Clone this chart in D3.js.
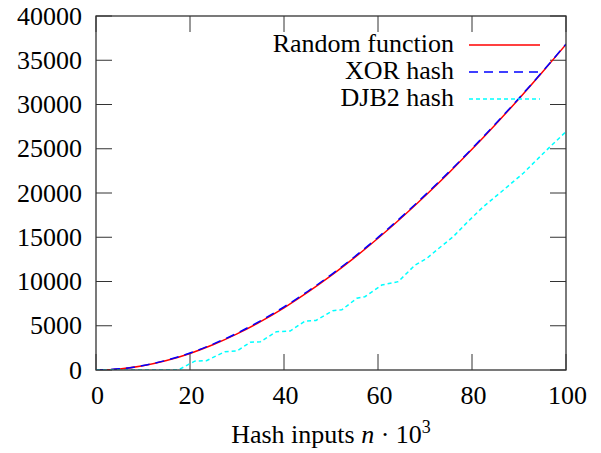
<!DOCTYPE html>
<html>
<head>
<meta charset="utf-8">
<script src="https://cdn.jsdelivr.net/npm/d3@7.9.0/dist/d3.min.js"></script>
</head>
<body style="margin:0">
<svg id="chart" width="601" height="453"></svg>
<script>
// inputs n (thousands)
const nValues = [0, 5, 10, 15, 20, 25, 30, 35, 40, 45, 50, 55, 60, 65, 70, 75, 80, 85, 90, 95, 100];
// collisions
const randomFn = [0, 123, 484, 1071, 1873, 2880, 4082, 5469, 7032, 8763, 10653, 12695, 14881, 17205, 19659, 22237, 24933, 27741, 30657, 33674, 36788];
const xorHash = [0, 130, 500, 1100, 1920, 2950, 4160, 5560, 7130, 8870, 10760, 12800, 14990, 17300, 19760, 22330, 25020, 27820, 30720, 33720, 36830];
const djbN = [0, 17.5, 21, 23.5, 27.4, 30, 32.8, 35, 38.4, 41.3, 44.5, 46.8, 50.4, 52.3, 55.5, 57.2, 60.8, 64.3, 67.9, 70.4, 72.5, 76, 79, 82.4, 86.7, 90.9, 95.9, 100];
const djbHash = [0, 0, 1000, 1050, 2070, 2150, 3130, 3200, 4330, 4400, 5540, 5600, 6700, 6800, 8100, 8280, 9600, 9980, 11860, 12620, 13560, 15060, 16700, 18450, 20340, 22230, 24860, 26930];

const xTicks = [0, 20, 40, 60, 80, 100];
const yTicks = [0, 5000, 10000, 15000, 20000, 25000, 30000, 35000, 40000];

const series = [
  { name: 'Random function', xs: nValues, ys: randomFn, color: '#ff0000', dash: null },
  { name: 'XOR hash', xs: nValues, ys: xorHash, color: '#0000ff', dash: '9,6' },
  { name: 'DJB2 hash', xs: djbN, ys: djbHash, color: '#00ffff', dash: '4,3' }
];

const serif = '"Liberation Serif"';
const svg = d3.select('#chart');
const plotL = 96, plotR = 566, plotT = 16, plotB = 370;
const tickLen = 16;

const x = d3.scaleLinear().domain([0, 100]).range([plotL, plotR]);
const y = d3.scaleLinear().domain([0, 40000]).range([plotB, plotT]);

// helper so every label gets the same font setup
function label(sel) {
  return sel
    .style('font-family', serif)
    .attr('font-size', 26)
    .attr('fill', '#000');
}

/*ticks, inward and mirrored, drawn as plain lines*/
const tickColor = '#333';
const ticks = svg.append('g').attr('stroke', tickColor).attr('stroke-width', 1);
ticks.selectAll('.xb').data(xTicks).join('line').attr('class', 'xb')
  .attr('x1', d => x(d)).attr('x2', d => x(d))
  .attr('y1', plotB).attr('y2', plotB - tickLen);
ticks.selectAll('.xt').data(xTicks).join('line').attr('class', 'xt')
  .attr('x1', d => x(d)).attr('x2', d => x(d))
  .attr('y1', plotT).attr('y2', plotT + tickLen);
ticks.selectAll('.yl').data(yTicks).join('line').attr('class', 'yl')
  .attr('x1', plotL).attr('x2', plotL + tickLen)
  .attr('y1', d => y(d)).attr('y2', d => y(d));
ticks.selectAll('.yr').data(yTicks).join('line').attr('class', 'yr')
  .attr('x1', plotR).attr('x2', plotR - tickLen)
  .attr('y1', d => y(d)).attr('y2', d => y(d));

/*tick labels*/
svg.append('g').selectAll('text')
  .data(yTicks)
  .join('text')
  .attr('x', 82)
  .attr('y', d => y(d) + 8.5)
  .attr('text-anchor', 'end')
  .call(label)
  .text(d => d);

svg.append('g').selectAll('text')
  .data(xTicks)
  .join('text')
  .attr('x', d => x(d) + 1.5)
  .attr('y', 404)
  .attr('text-anchor', 'middle')
  .call(label)
  .text(d => d);

/*axis title*/
const title = svg.append('text')
  .attr('x', (plotL + plotR) / 2)
  .attr('y', 443)
  .attr('text-anchor', 'middle')
  .call(label);
title.append('tspan').text('Hash inputs ');
title.append('tspan').style('font-style', 'italic').text('n');
title.append('tspan').text(' · 10');
title.append('tspan').attr('font-size', 18).attr('dy', -10).text('3');

/*curves*/
svg.append('clipPath').attr('id', 'plot-clip')
  .append('rect')
  .attr('x', plotL).attr('y', plotT)
  .attr('width', plotR - plotL).attr('height', plotB - plotT);

series.forEach(s => {
  const pts = s.xs.map((n, i) => [n, s.ys[i]]);
  const line = d3.line()
    .x(d => x(d[0]))
    .y(d => y(d[1]))
    .curve(s.name === 'DJB2 hash' ? d3.curveLinear : d3.curveMonotoneX);
  svg.append('path')
    .datum(pts)
    .attr('clip-path', 'url(#plot-clip)')
    .attr('fill', 'none')
    .attr('stroke', s.color)
    .attr('stroke-width', 1.5)
    .attr('stroke-dasharray', s.dash)
    .attr('d', line);
});

/*legend*/
const legend = svg.append('g');
series.forEach((s, i) => {
  const ly = 45 + i * 27;
  legend.append('text')
    .attr('x', 454)
    .attr('y', ly + 7)
    .attr('text-anchor', 'end')
    .call(label)
    .text(s.name);
  legend.append('line')
    .attr('x1', 469).attr('x2', 540)
    .attr('y1', ly).attr('y2', ly)
    .attr('stroke', s.color)
    .attr('stroke-width', 1.5)
    .attr('stroke-dasharray', s.dash);
});

/*border*/
svg.append('rect')
  .attr('x', plotL).attr('y', plotT)
  .attr('width', plotR - plotL).attr('height', plotB - plotT)
  .attr('fill', 'none')
  .attr('stroke', tickColor)
  .attr('stroke-width', 1.3);
</script>
</body>
</html>
